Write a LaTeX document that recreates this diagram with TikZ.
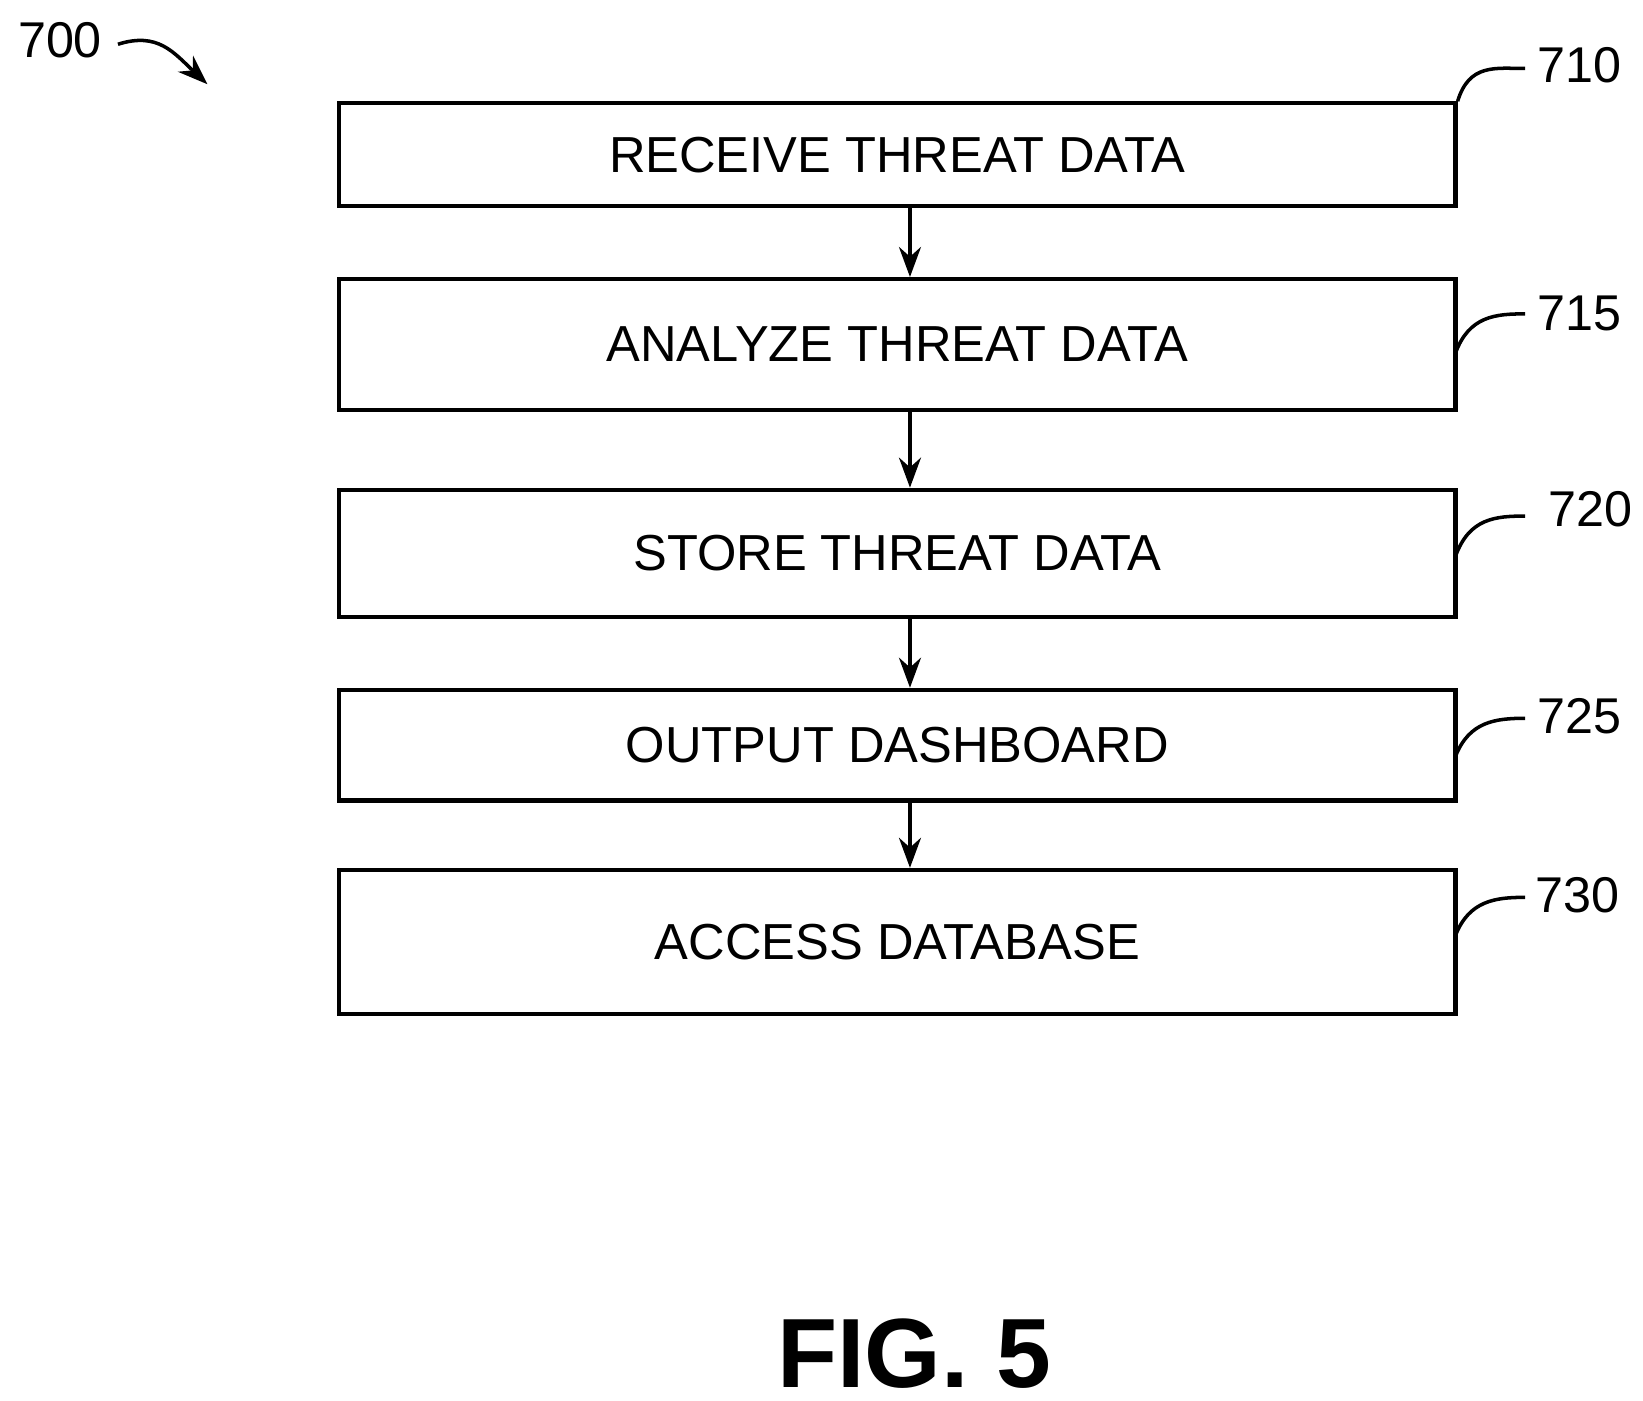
\documentclass[tikz,border=0pt]{standalone}
\usepackage{fontspec}
\setmainfont{Liberation Sans}
\usetikzlibrary{arrows.meta}
\begin{document}
\begin{tikzpicture}[x=0.01053cm,y=-0.01053cm,
	stepbox/.style={draw, line width=1.2pt, minimum width=11.16cm, font=\fontsize{14.4}{17}\selectfont, inner sep=0pt},
	num/.style={font=\fontsize{14.3}{17}\selectfont},
	lead/.style={line width=1pt},
	flow/.style={line width=1pt, -{Stealth[length=3mm,width=2.2mm]}}]
	% page frame
	\useasboundingbox (0,0) rectangle (1560,1330);
	% steps
	\node[stepbox, minimum height=1.03cm] (receive) at (852,147) {RECEIVE THREAT DATA};
	\node[stepbox, minimum height=1.306cm] (analyze) at (852,327) {ANALYZE THREAT DATA};
	\node[stepbox, minimum height=1.274cm] (store) at (852,525.5) {STORE THREAT DATA};
	\node[stepbox, minimum height=1.106cm] (output) at (852,707.5) {OUTPUT DASHBOARD};
	\node[stepbox, minimum height=1.443cm] (access) at (852,894.5) {ACCESS DATABASE};
	% flow
	\draw[flow] (receive.south -| 864,0) -- (analyze.north -| 864,0);
	\draw[flow] (analyze.south -| 864,0) -- (store.north -| 864,0);
	\draw[flow] (store.south -| 864,0) -- (output.north -| 864,0);
	\draw[flow] (output.south -| 864,0) -- (access.north -| 864,0);
	% reference numbers
	\node[num] (n700) at (57,38) {700};
	\node[num] (n710) at (1500,62) {710};
	\node[num] (n715) at (1500,298) {715};
	\node[num] (n720) at (1510,483) {720};
	\node[num] (n725) at (1500,680) {725};
	\node[num] (n730) at (1498,850) {730};
	\coordinate (c700) at (197,80);
	\draw[flow] (112,42) .. controls (150,30) and (165,50) .. (c700);
	\draw[lead] (receive.north east) .. controls (1395,60) and (1420,65) .. (1448,65);
	\draw[lead] (1382,335) .. controls (1395,300) and (1420,298) .. (1448,298);
	\draw[lead] (1382,528) .. controls (1395,492) and (1420,490) .. (1448,490);
	\draw[lead] (1382,718) .. controls (1395,685) and (1420,682) .. (1448,682);
	\draw[lead] (1382,888) .. controls (1395,855) and (1420,852) .. (1448,852);
	% caption
	\node[font=\bfseries\fontsize{28}{32}\selectfont] (caption) at (868,1285) {FIG. 5};
\end{tikzpicture}
\end{document}
